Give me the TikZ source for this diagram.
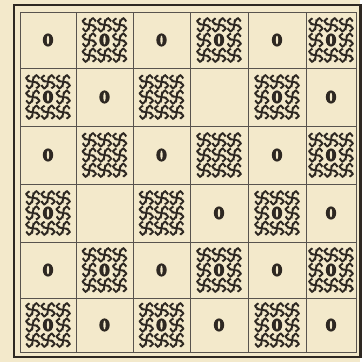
\documentclass[tikz,border=0pt]{standalone}
\usetikzlibrary{calc}
\definecolor{paper}{HTML}{F3E9CB}
\definecolor{ink}{HTML}{2E2822}
\tikzset{
  rule/.style={draw=ink!80, line width=0.7pt},
  frame/.style={draw=ink, line width=1.7pt},
  fret/.style={draw=ink, line width=1.35pt, line cap=round},
  eye/.pic={\fill[ink] (0,0) ellipse (5.2 and 6.6); \fill[paper] (0,0) ellipse (1.2 and 4.4);},
  swas/.pic={\foreach \a in {0,90,180,270}
    \draw[fret, rotate=\a] (0,0) to[out=-80,in=90] (0.5,-3.8) to[out=-90,in=180] (3.8,-6.6) to[out=0,in=-100] (6.3,-4.2);},
  fretring/.pic={\foreach \i/\j in {-1/-1,0/-1,1/-1,-1/0,1/0,-1/1,0/1,1/1}
    \pic at (15.2*\i,15.2*\j) {swas};},
  fretfull/.pic={\pic {fretring}; \pic {swas};}
}
% cell middles
\newcommand\colmid[1]{\ifcase#1\or48\or104.5\or161.5\or219\or277\or331\fi}
\newcommand\rowmid[1]{\ifcase#1\or40\or97\or155\or213\or270\or325\fi}
\begin{document}
\begin{tikzpicture}[x=0.025cm, y=-0.025cm]
  \fill[paper] (0,0) rectangle (360,362);
  % frame and ruling
  \draw[frame] (14,5) rectangle (360.5,357);
  \draw[rule] (20,12) rectangle (356,352);
  \foreach \x in {76,133,190,248,306} \draw[rule] (\x,12) -- (\x,352);
  \foreach \y in {68,126,184,242,298} \draw[rule] (20,\y) -- (356,\y);
  % d = dot, p = frets round a dot, f = frets only, e = empty
  \foreach \codes [count=\r] in {{d,p,d,p,d,p},{p,d,f,e,p,d},{d,f,d,f,d,p},
                                 {p,e,f,d,p,d},{d,p,d,p,d,p},{p,d,p,d,p,d}}{
    \foreach \code [count=\k] in \codes {
      \coordinate (m) at (\colmid{\k},\rowmid{\r});
      \if d\code \pic at (m) {eye};\fi
      \if p\code \pic at (m) {fretring}; \pic at (m) {eye};\fi
      \if f\code \pic at (m) {fretfull};\fi
    }
  }
\end{tikzpicture}
\end{document}
